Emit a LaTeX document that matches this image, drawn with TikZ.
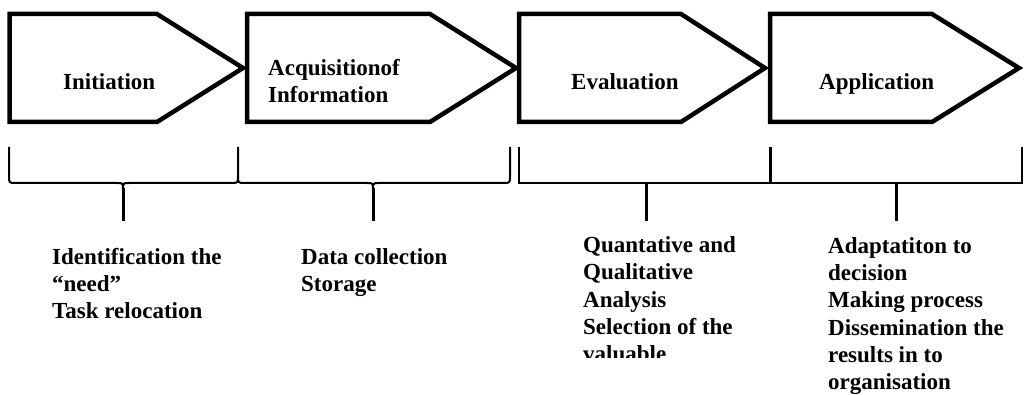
\documentclass[tikz,border=0pt]{standalone}
\usepackage{fontspec}
\setmainfont{Liberation Serif}
\begin{document}
\begin{tikzpicture}[x=1pt,y=-1pt,
  stage/.style={draw=black,line width=4.5pt,line join=miter},
  bracepath/.style={draw=black,line width=2pt},
  tickline/.style={draw=black,line width=3pt},
  lbl/.style={font=\bfseries\fontsize{23}{27.4}\selectfont,anchor=base west,inner sep=0pt,align=left}]
\useasboundingbox (0,0) rectangle (1029,395);
% stage arrows
\draw[stage] (9.5,14) -- (157,14) -- (243,68) -- (157,122) -- (9.5,122) -- cycle;
\draw[stage] (247,14) -- (430,14) -- (516,68) -- (430,122) -- (247,122) -- cycle;
\draw[stage] (519,14) -- (681,14) -- (765,68) -- (681,122) -- (519,122) -- cycle;
\draw[stage] (770,14) -- (932,14) -- (1019,68) -- (932,122) -- (770,122) -- cycle;
% stage labels (anchor = baseline of the last line)
\node[lbl] (initiation) at (63,90) {Initiation};
\node[lbl] (acquisition) at (268,103) {Acquisitionof\\Information};
\node[lbl] (evaluation) at (571,90) {Evaluation};
\node[lbl] (application) at (819,90) {Application};
% braces
\draw[bracepath] (9,147) -- (9,176) .. controls (9,183) .. (16,183) -- (117,183) .. controls (123,183) .. (123,190);
\draw[bracepath] (123,190) .. controls (123,183) .. (129,183) -- (231,183) .. controls (238,183) .. (238,176) -- (238,147);
\draw[tickline] (123,188) -- (123,221);
\draw[bracepath] (238,176) .. controls (238,183) .. (245,183) -- (367,183) .. controls (373,183) .. (373,190);
\draw[bracepath] (373,190) .. controls (373,183) .. (379,183) -- (503,183) .. controls (510,183) .. (510,176) -- (510,147);
\draw[tickline] (373,188) -- (373,221);
% square bracket
\draw[bracepath] (519,147) -- (519,183) -- (1022,183) -- (1022,147);
\draw[tickline] (770,147) -- (770,183);
\draw[tickline] (646,183) -- (646,221);
\draw[tickline] (896,183) -- (896,221);
% descriptions (anchor = baseline of the last line)
\node[lbl] (need) at (52,319) {Identification the\\“need”\\Task relocation};
\node[lbl] (data) at (301,292) {Data collection\\Storage};
\begin{scope}
\clip (560,230) rectangle (800,358);
\node[lbl] (analysis) at (583,362) {Quantative and\\Qualitative\\Analysis\\Selection of the\\valuable};
\end{scope}
\node[lbl] (adapt) at (828,390) {Adaptatiton to\\decision\\Making process\\Dissemination the\\results in to\\organisation};
\end{tikzpicture}
\end{document}
